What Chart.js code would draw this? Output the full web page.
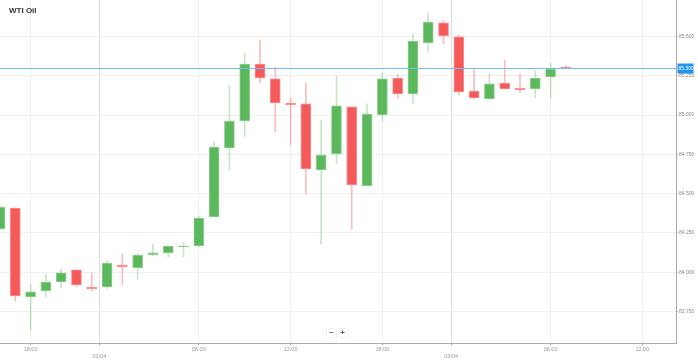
<!DOCTYPE html>
<html>
<head>
<meta charset="utf-8">
<script src="https://cdn.jsdelivr.net/npm/chart.js@4.4.1/dist/chart.umd.min.js"></script>
<style>
  html, body { margin: 0; padding: 0; background: #fff; }
  #wrap { position: relative; width: 698px; height: 362px; overflow: hidden; }
  #title { position: absolute; left: 9px; top: 6px; font: bold 8px "Liberation Sans", Arial, sans-serif; color: #333; }
  .zbtn { position: absolute; top: 329px; width: 9px; height: 8px; background: #fff; box-shadow: 0 0 1px rgba(0,0,0,.3); font: bold 8px/8px "Liberation Sans", Arial, sans-serif; color: #666; text-align: center; }
</style>
</head>
<body>
<div id="wrap">
  <canvas id="chart" width="698" height="362"></canvas>
  <div id="title">WTI Oil</div>
  <div class="zbtn" style="left:327px">&minus;</div>
  <div class="zbtn" style="left:338px">+</div>
</div>
<script>
  'use strict';

  // Hourly candles, one slot per trading hour (index 0 = 16:00 on 01/04).
  var openVals = [84.275, 84.409, 83.843, 83.881, 83.938, 84.015, 83.906, 83.906, 84.046, 84.027,
    84.110, 84.123, 84.161, 84.167, 84.352, 84.791, 84.962, 85.325, 85.230, 85.077,
    85.071, 84.651, 84.753, 85.052, 84.549, 85.001, 85.236, 85.134, 85.459, 85.586,
    85.497, 85.153, 85.102, 85.204, 85.172, 85.166, 85.242, 85.303];
  var highVals = [84.420, 84.410, 83.926, 83.989, 84.021, 84.015, 83.996, 84.078, 84.116, 84.116,
    84.180, 84.167, 84.186, 84.358, 84.829, 85.191, 85.395, 85.478, 85.306, 85.109,
    85.204, 84.969, 85.249, 85.052, 85.071, 85.268, 85.261, 85.516, 85.649, 85.599,
    85.510, 85.293, 85.268, 85.351, 85.261, 85.281, 85.331, 85.317];
  var lowVals = [84.270, 83.817, 83.633, 83.843, 83.900, 83.906, 83.881, 83.894, 83.919, 83.957,
    84.104, 84.097, 84.097, 84.161, 84.352, 84.651, 84.861, 85.204, 84.892, 84.810,
    84.498, 84.180, 84.689, 84.275, 84.549, 84.962, 85.109, 85.077, 85.401, 85.452,
    85.128, 85.102, 85.102, 85.166, 85.141, 85.109, 85.109, 85.296];
  var closeVals = [84.415, 83.849, 83.875, 83.938, 83.996, 83.919, 83.894, 84.059, 84.034, 84.110,
    84.123, 84.167, 84.167, 84.345, 84.797, 84.962, 85.325, 85.236, 85.077, 85.064,
    84.657, 84.746, 85.058, 84.555, 85.007, 85.230, 85.134, 85.471, 85.592, 85.503,
    85.147, 85.109, 85.198, 85.166, 85.160, 85.236, 85.293, 85.298];

  // X tick slots and their labels (dates sit between the last and first hour of a day).
  var tickPos = [2, 6.5, 13, 19, 25, 29.5, 36, 42];
  var tickText = ['18:00', '02/04', '06:00', '12:00', '18:00', '03/04', '06:00', '12:00'];
  var dateTicks = ['02/04', '03/04'];

  var lastPrice = 85.300;

  var GREEN = '#5cb85c';
  var RED = '#f55a5a';

  var bodies = [];
  var wicks = [];
  var bodyColors = [];
  var bodyBorders = [];
  var wickColors = [];
  for (var i = 0; i < openVals.length; i++) {
    var up = closeVals[i] >= openVals[i];
    bodies.push({ x: i, y: [openVals[i], closeVals[i]] });
    wicks.push({ x: i, y: [lowVals[i], highVals[i]] });
    bodyColors.push(up ? GREEN : RED);
    bodyBorders.push(up ? '#8fd08f' : '#ff8c8c');
    wickColors.push(up ? 'rgba(92,184,92,0.35)' : 'rgba(245,90,90,0.4)');
  }

  // Blue last-price line with its value tag on the axis.
  var priceLine = {
    id: 'priceLine',
    afterDraw: function (chart) {
      var ctx = chart.ctx;
      var area = chart.chartArea;
      var y = Math.round(chart.scales.y.getPixelForValue(lastPrice)) + 0.5;
      ctx.save();
      ctx.strokeStyle = '#6cc0f5';
      ctx.lineWidth = 1;
      ctx.beginPath();
      ctx.moveTo(area.left, y);
      ctx.lineTo(area.right, y);
      ctx.stroke();
      ctx.fillStyle = '#2196f3';
      ctx.fillRect(area.right + 1.5, y - 5, 16, 10);
      ctx.fillStyle = '#fff';
      ctx.font = '5px "Liberation Sans", Arial, sans-serif';
      ctx.textBaseline = 'middle';
      ctx.textAlign = 'left';
      ctx.fillText(lastPrice.toFixed(3), area.right + 2.5, y);
      ctx.restore();
    }
  };

  var chart = new Chart(document.getElementById('chart').getContext('2d'), {
    type: 'bar',
    data: {
      datasets: [
        {
          data: wicks,
          backgroundColor: wickColors,
          borderWidth: 0,
          barThickness: 1,
          grouped: false,
          order: 2
        },
        {
          data: bodies,
          backgroundColor: bodyColors,
          borderColor: bodyBorders,
          borderWidth: 1,
          borderSkipped: false,
          barThickness: 10,
          grouped: false,
          order: 1
        }
      ]
    },
    options: {
      responsive: false,
      animation: false,
      layout: { padding: 0 },
      plugins: {
        legend: { display: false },
        tooltip: { enabled: false }
      },
      scales: {
        x: {
          type: 'linear',
          min: 0,
          max: 44.2,
          offset: false,
          afterFit: function (scale) {
            scale.height = 19;
            scale.paddingLeft = 0;
            scale.paddingRight = 0;
          },
          afterBuildTicks: function (scale) {
            scale.ticks = tickPos.map(function (v) { return { value: v }; });
          },
          grid: {
            offset: false,
            tickLength: 2,
            color: function (c) {
              return c.tick && c.tick.value % 1 !== 0 ? '#dddddd' : '#efefef';
            },
            tickColor: '#999'
          },
          border: { color: '#aaa', width: 1 },
          ticks: {
            padding: 0,
            autoSkip: false,
            maxRotation: 0,
            color: '#999',
            font: { family: '"Liberation Sans", Arial, sans-serif', size: 5.5, lineHeight: 1.45 },
            callback: function (value) {
              var k = tickPos.indexOf(value);
              if (k < 0) return '';
              var t = tickText[k];
              return dateTicks.indexOf(t) >= 0 ? ['', t] : t;
            }
          }
        },
        y: {
          position: 'right',
          min: 83.55,
          max: 85.732,
          afterFit: function (scale) {
            scale.width = 22;
            scale.paddingTop = 0;
            scale.paddingBottom = 0;
          },
          afterBuildTicks: function (scale) {
            var out = [];
            for (var v = 83.75; v <= 85.5001; v += 0.25) out.push({ value: v });
            scale.ticks = out;
          },
          grid: { color: '#f0f0f0', tickLength: 2, tickColor: '#bbb' },
          border: { color: '#aaa', width: 1 },
          ticks: {
            padding: 1,
            color: '#888',
            font: { family: '"Liberation Sans", Arial, sans-serif', size: 5 },
            callback: function (value) { return Number(value).toFixed(3); }
          }
        }
      }
    },
    plugins: [priceLine]
  });
</script>
</body>
</html>
